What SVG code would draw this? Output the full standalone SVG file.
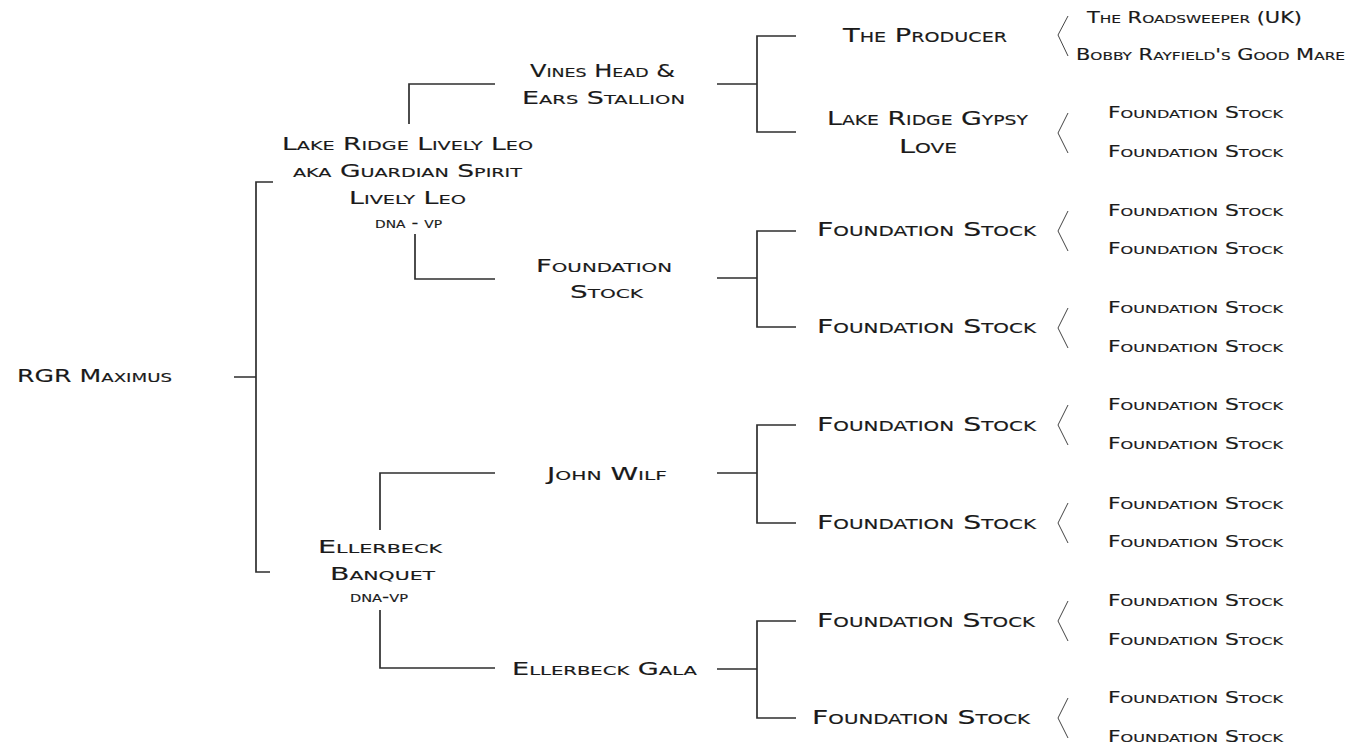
<svg xmlns="http://www.w3.org/2000/svg" width="1350" height="747" viewBox="0 0 1350 747">
<style>
text{font-family:"DejaVu Sans","Liberation Sans",sans-serif;font-variant:small-caps;fill:#1a1a1a;stroke:#1a1a1a;stroke-width:0.15}
.c1{font-size:18px}
.c3{font-size:20px}
.c4{font-size:15px}
.sm{font-size:15px}
.ln{fill:none;stroke:#2e2e2e;stroke-width:1.7}
.br{fill:none;stroke:#444;stroke-width:1}
</style>
<rect width="1350" height="747" fill="#fff"/>
<g id="connectors">
<path class="ln" d="M234 377H256M273 182H256V572H270"/>
<path class="ln" d="M495 84H409V124M415 234V279H495"/>
<path class="ln" d="M495 473H380V530M380 610V668H495"/>
<path class="ln" d="M717 84H757M796 36H757V132H796"/>
<path class="ln" d="M717 278H757M796 231H757V327H796"/>
<path class="ln" d="M717 473H757M796 425H757V523H796"/>
<path class="ln" d="M717 669H757M796 621H757V718H796"/>
<path class="br" d="M1068 16L1058 35L1068 56M1068 113L1058 133L1068 153M1068 211L1058 231L1068 251M1068 308L1058 328L1068 348M1068 405L1058 425L1068 445M1068 503L1058 523L1068 543M1068 601L1058 621L1068 641M1068 698L1058 718L1068 738"/>
</g>
<g id="n-rgr"><text class="c1" x="17" y="382" textLength="155" lengthAdjust="spacingAndGlyphs">RGR Maximus</text></g>
<g id="n-leo">
<text class="c1" x="282" y="150" textLength="251" lengthAdjust="spacingAndGlyphs">Lake Ridge Lively Leo</text>
<text class="c1" x="293" y="177" textLength="229" lengthAdjust="spacingAndGlyphs">aka Guardian Spirit</text>
<text class="c1" x="349" y="204" textLength="117" lengthAdjust="spacingAndGlyphs">Lively Leo</text>
<text class="sm" x="375" y="228" textLength="67" lengthAdjust="spacingAndGlyphs">dna - vp</text>
</g>
<g id="n-banquet">
<text class="c1" x="318" y="553" textLength="124" lengthAdjust="spacingAndGlyphs">Ellerbeck</text>
<text class="c1" x="330" y="580" textLength="105" lengthAdjust="spacingAndGlyphs">Banquet</text>
<text class="sm" x="350" y="602" textLength="58" lengthAdjust="spacingAndGlyphs">dna-vp</text>
</g>
<g id="n-vines">
<text class="c1" x="530" y="77" textLength="145" lengthAdjust="spacingAndGlyphs">Vines Head &amp;</text>
<text class="c1" x="522" y="104" textLength="163" lengthAdjust="spacingAndGlyphs">Ears Stallion</text>
</g>
<g id="n-fs2">
<text class="c1" x="536" y="272" textLength="136" lengthAdjust="spacingAndGlyphs">Foundation</text>
<text class="c1" x="570" y="298" textLength="73" lengthAdjust="spacingAndGlyphs">Stock</text>
</g>
<g id="n-wilf"><text class="c1" x="547" y="480" textLength="120" lengthAdjust="spacingAndGlyphs">John Wilf</text></g>
<g id="n-gala"><text class="c1" x="512" y="675" textLength="185" lengthAdjust="spacingAndGlyphs">Ellerbeck Gala</text></g>
<g id="n-producer"><text class="c3" x="843" y="42" textLength="164" lengthAdjust="spacingAndGlyphs">The Producer</text></g>
<g id="n-gypsy">
<text class="c3" x="827" y="125" textLength="201" lengthAdjust="spacingAndGlyphs">Lake Ridge Gypsy</text>
<text class="c3" x="899" y="153" textLength="58" lengthAdjust="spacingAndGlyphs">Love</text>
</g>
<g id="n-g3"><text class="c3" x="817" y="236" textLength="219" lengthAdjust="spacingAndGlyphs">Foundation Stock</text></g>
<g id="n-g4"><text class="c3" x="817" y="333" textLength="219" lengthAdjust="spacingAndGlyphs">Foundation Stock</text></g>
<g id="n-g5"><text class="c3" x="817" y="431" textLength="219" lengthAdjust="spacingAndGlyphs">Foundation Stock</text></g>
<g id="n-g6"><text class="c3" x="817" y="529" textLength="219" lengthAdjust="spacingAndGlyphs">Foundation Stock</text></g>
<g id="n-g7"><text class="c3" x="817" y="627" textLength="218" lengthAdjust="spacingAndGlyphs">Foundation Stock</text></g>
<g id="n-g8"><text class="c3" x="812" y="724" textLength="218" lengthAdjust="spacingAndGlyphs">Foundation Stock</text></g>
<g id="n-roadsweeper"><text class="c4" x="1087" y="23" textLength="215" lengthAdjust="spacingAndGlyphs">The Roadsweeper (UK)</text></g>
<g id="n-bobby"><text class="c4" x="1076" y="60" textLength="269" lengthAdjust="spacingAndGlyphs">Bobby Rayfield's Good Mare</text></g>
<g id="n-gg3"><text class="c4" x="1108" y="118" textLength="175" lengthAdjust="spacingAndGlyphs">Foundation Stock</text></g>
<g id="n-gg4"><text class="c4" x="1108" y="157" textLength="175" lengthAdjust="spacingAndGlyphs">Foundation Stock</text></g>
<g id="n-gg5"><text class="c4" x="1108" y="216" textLength="175" lengthAdjust="spacingAndGlyphs">Foundation Stock</text></g>
<g id="n-gg6"><text class="c4" x="1108" y="254" textLength="175" lengthAdjust="spacingAndGlyphs">Foundation Stock</text></g>
<g id="n-gg7"><text class="c4" x="1108" y="313" textLength="175" lengthAdjust="spacingAndGlyphs">Foundation Stock</text></g>
<g id="n-gg8"><text class="c4" x="1108" y="352" textLength="175" lengthAdjust="spacingAndGlyphs">Foundation Stock</text></g>
<g id="n-gg9"><text class="c4" x="1108" y="410" textLength="175" lengthAdjust="spacingAndGlyphs">Foundation Stock</text></g>
<g id="n-gg10"><text class="c4" x="1108" y="449" textLength="175" lengthAdjust="spacingAndGlyphs">Foundation Stock</text></g>
<g id="n-gg11"><text class="c4" x="1108" y="509" textLength="175" lengthAdjust="spacingAndGlyphs">Foundation Stock</text></g>
<g id="n-gg12"><text class="c4" x="1108" y="547" textLength="175" lengthAdjust="spacingAndGlyphs">Foundation Stock</text></g>
<g id="n-gg13"><text class="c4" x="1108" y="606" textLength="175" lengthAdjust="spacingAndGlyphs">Foundation Stock</text></g>
<g id="n-gg14"><text class="c4" x="1108" y="645" textLength="175" lengthAdjust="spacingAndGlyphs">Foundation Stock</text></g>
<g id="n-gg15"><text class="c4" x="1108" y="703" textLength="175" lengthAdjust="spacingAndGlyphs">Foundation Stock</text></g>
<g id="n-gg16"><text class="c4" x="1108" y="742" textLength="175" lengthAdjust="spacingAndGlyphs">Foundation Stock</text></g>
</svg>
